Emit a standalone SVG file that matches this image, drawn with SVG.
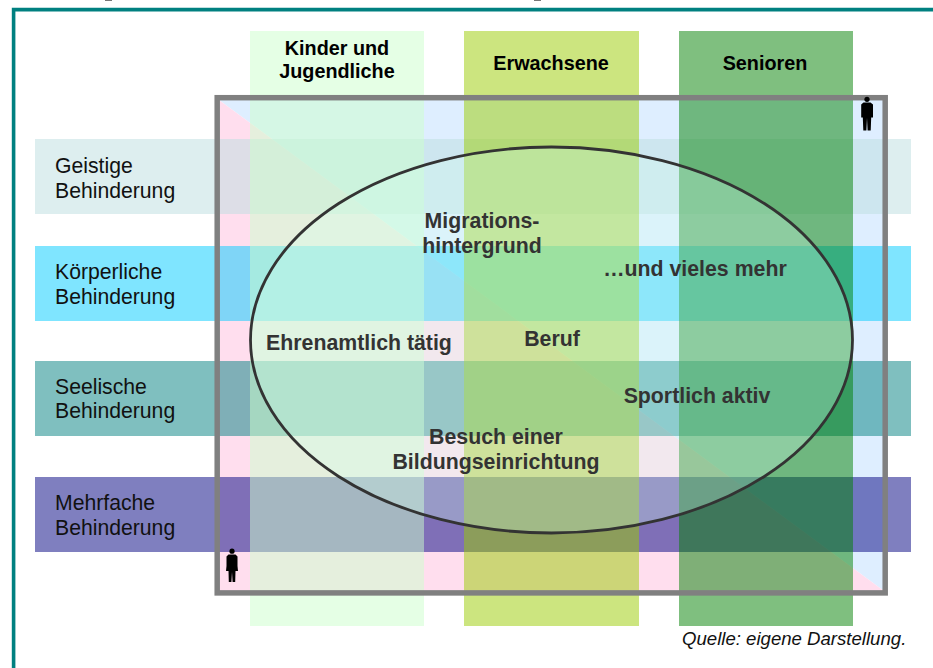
<svg xmlns="http://www.w3.org/2000/svg" width="933" height="668" viewBox="0 0 933 668">
<style>
text{font-family:"Liberation Sans",Arial,sans-serif}
.row{font-size:21.2px;fill:#111}
.col{font-size:19.8px;font-weight:bold;fill:#000;text-anchor:middle}
.lab{font-size:21.3px;font-weight:bold;fill:#333;text-anchor:middle}
.src{font-size:18.6px;font-style:italic;fill:#111}
.rb{fill-opacity:.5}
.cb{fill-opacity:.5}
</style>
<rect width="933" height="668" fill="#fff"/>
<g id="page-frame">
<path d="M13.6 668V9.6H933" fill="none" stroke="#008080" stroke-width="3.6"/>
<rect x="105" y="0" width="7" height="1" fill="#777"/>
<rect x="534" y="0" width="7" height="1" fill="#777"/>
</g>
<g id="background">
<path d="M219 100H884V591Z" fill="#deeeff"/>
<path d="M219 100V591H884Z" fill="#ffdeee"/>
</g>
<g id="row-geistig"><rect class="rb" x="35" y="139" width="876" height="75" fill="#bbdde0"/></g>
<g id="row-koerperlich"><rect class="rb" x="35" y="246" width="876" height="75" fill="#00ccff"/></g>
<g id="row-seelisch"><rect class="rb" x="35" y="361" width="876" height="75" fill="#008080"/></g>
<g id="row-mehrfach"><rect class="rb" x="35" y="477" width="876" height="75" fill="#000080"/></g>
<g id="col-kinder"><rect class="cb" x="250" y="31" width="174" height="595" fill="#ccffcc"/></g>
<g id="col-erwachsene"><rect class="cb" x="464" y="31" width="175" height="595" fill="#99cc00"/></g>
<g id="col-senioren"><rect class="cb" x="679" y="31" width="174" height="595" fill="#008000"/></g>
<g id="frame"><rect x="217.2" y="97.7" width="668" height="495.2" fill="none" stroke="#808080" stroke-width="5.5"/></g>
<g id="ellipse"><ellipse cx="551.5" cy="340" rx="301" ry="193" fill="#d4fff0" fill-opacity=".3" stroke="#333" stroke-width="2.8"/></g>
<g id="man"><circle cx="867" cy="99.3" r="2.6" fill="#000"/><path d="M863.5 102.5H870.5L873 104.5V117.5H871.2L870.7 130.5H867.6L867 118L866.4 130.5H863.3L862.8 117.5H861.2V104.500Z" fill="#000"/></g>
<g id="woman"><circle cx="232" cy="551.2" r="2.6" fill="#000"/><path d="M228.5 554.5H235.5L237.5 556.5V566L238 571H235.5L235.2 582H232.6L232 572L231.4 582H228.8L228.5 571H226L226.5 566V556.5Z" fill="#000"/></g>
<g id="row-labels">
<text class="row" x="55" y="173">Geistige</text><text class="row" x="55" y="197.500">Behinderung</text>
<text class="row" x="55" y="279">Körperliche</text><text class="row" x="55" y="303.500">Behinderung</text>
<text class="row" x="55" y="394">Seelische</text><text class="row" x="55" y="418">Behinderung</text>
<text class="row" x="55" y="510">Mehrfache</text><text class="row" x="55" y="534.500">Behinderung</text>
</g>
<g id="col-labels">
<text class="col" x="337" y="55">Kinder und</text><text class="col" x="337" y="78">Jugendliche</text>
<text class="col" x="551" y="70">Erwachsene</text>
<text class="col" x="765" y="70">Senioren</text>
</g>
<g id="ellipse-labels">
<text class="lab" x="482" y="228">Migrations-</text><text class="lab" x="482" y="253">hintergrund</text>
<text class="lab" x="695" y="276">…und vieles mehr</text>
<text class="lab" x="359" y="350">Ehrenamtlich tätig</text>
<text class="lab" x="552" y="346">Beruf</text>
<text class="lab" x="697" y="403">Sportlich aktiv</text>
<text class="lab" x="496" y="444">Besuch einer</text><text class="lab" x="496" y="469">Bildungseinrichtung</text>
</g>
<g id="source"><text class="src" x="682" y="645">Quelle: eigene Darstellung.</text></g>
</svg>
